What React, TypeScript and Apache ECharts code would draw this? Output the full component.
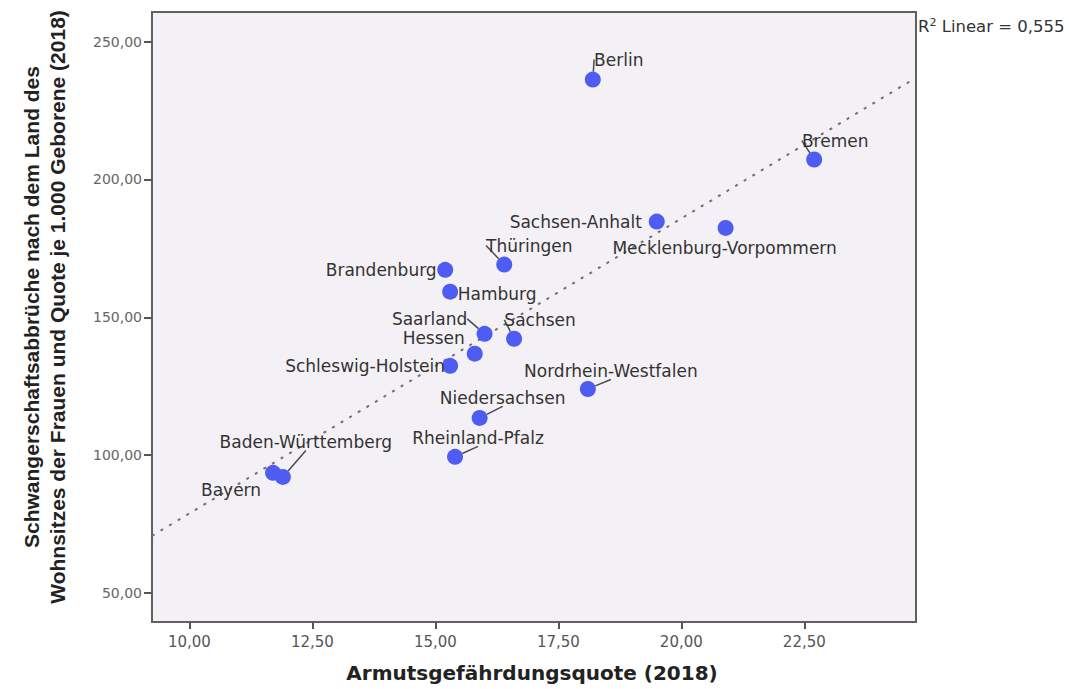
import React, { useEffect, useRef } from "react";
import * as echarts from "echarts";

// ---- Data ----
const states = [
  "Berlin",
  "Bremen",
  "Sachsen-Anhalt",
  "Mecklenburg-Vorpommern",
  "Thüringen",
  "Brandenburg",
  "Hamburg",
  "Saarland",
  "Sachsen",
  "Hessen",
  "Schleswig-Holstein",
  "Nordrhein-Westfalen",
  "Niedersachsen",
  "Rheinland-Pfalz",
  "Baden-Württemberg",
  "Bayern",
];
// Armutsgefährdungsquote (2018)
const povertyRate = [18.2, 22.7, 19.5, 20.9, 16.4, 15.2, 15.3, 16.0, 16.6, 15.8, 15.3, 18.1, 15.9, 15.4, 11.9, 11.7];
// Schwangerschaftsabbrüche je 1.000 Geborene (2018)
const abortionRate = [236.2, 207.2, 184.7, 182.4, 169.1, 167.2, 159.3, 144.0, 142.2, 136.8, 132.4, 124.0, 113.5, 99.4, 92.1, 93.6];
const xTicks = [10, 12.5, 15, 17.5, 20, 22.5];
const yTicks = [50, 100, 150, 200, 250];
const rSquaredText = "0,555";
const xTitle = "Armutsgefährdungsquote (2018)";
const yTitleLines = [
  "Schwangerschaftsabbrüche nach dem Land des",
  "Wohnsitzes der Frauen und Quote je 1.000 Geborene (2018)",
];

// ---- Styling (label placement per state, in px: dx, dy, leader line) ----
const labelPlacement: Record<string, [number, number, boolean]> = {
  Berlin: [26, -20, true],
  Bremen: [21, -19, true],
  "Sachsen-Anhalt": [-81, 0, false],
  "Mecklenburg-Vorpommern": [-1, 20, false],
  "Thüringen": [25, -19, true],
  Brandenburg: [-64, 0, false],
  Hamburg: [47, 2, false],
  Saarland: [-55, -15, true],
  Sachsen: [26, -19, true],
  Hessen: [-41, -16, false],
  "Schleswig-Holstein": [-85, 0, false],
  "Nordrhein-Westfalen": [23, -18, true],
  Niedersachsen: [23, -20, true],
  "Rheinland-Pfalz": [23, -19, true],
  "Baden-Württemberg": [23, -35, true],
  Bayern: [-42, 17, false],
};

const X_MIN = 9.24;
const X_MAX = 24.77;
const Y_MIN = 39.5;
const Y_MAX = 260.7;

const fmt = (v: number) => v.toFixed(2).replace(".", ",");

function linearFit(xs: number[], ys: number[]) {
  const n = xs.length;
  const mx = xs.reduce((a, b) => a + b, 0) / n;
  const my = ys.reduce((a, b) => a + b, 0) / n;
  let sxy = 0;
  let sxx = 0;
  for (let i = 0; i < n; i++) {
    sxy += (xs[i] - mx) * (ys[i] - my);
    sxx += (xs[i] - mx) * (xs[i] - mx);
  }
  const b = sxy / sxx;
  return { a: my - b * mx, b };
}

export default function App() {
  const ref = useRef<HTMLDivElement>(null);

  useEffect(() => {
    if (!ref.current) return;
    const chart = echarts.init(ref.current, null, { renderer: "svg" });
    const fit = linearFit(povertyRate, abortionRate);

    const points = states.map((name, i) => {
      const p = labelPlacement[name];
      return {
        name,
        value: [povertyRate[i], abortionRate[i]],
        labelLine: { show: p ? p[2] : false },
      };
    });

    const option: any = {
      animation: false,
      backgroundColor: "#ffffff",
      grid: {
        left: 152,
        right: 153,
        top: 12,
        bottom: 67,
        show: true,
        backgroundColor: "#f4f1f6",
        borderColor: "#606060",
        borderWidth: 2,
      },
      xAxis: {
        type: "value",
        min: X_MIN,
        max: X_MAX,
        splitLine: { show: false },
        axisLine: { show: true, onZero: false, lineStyle: { color: "#606060", width: 2 } },
        axisTick: {
          show: true,
          length: 7,
          customValues: xTicks,
          lineStyle: { color: "#555", width: 2 },
        },
        axisLabel: {
          customValues: xTicks,
          formatter: (v: number) => fmt(v),
          fontFamily: "DejaVu Sans",
          fontSize: 15,
          color: "#555",
          margin: 12,
        },
      },
      yAxis: {
        type: "value",
        min: Y_MIN,
        max: Y_MAX,
        splitLine: { show: false },
        axisLine: { show: true, onZero: false, lineStyle: { color: "#606060", width: 2 } },
        axisTick: {
          show: true,
          length: 8,
          customValues: yTicks,
          lineStyle: { color: "#555", width: 2 },
        },
        axisLabel: {
          customValues: yTicks,
          formatter: (v: number) => fmt(v),
          fontFamily: "DejaVu Sans",
          fontSize: 14,
          color: "#666",
          margin: 10,
        },
      },
      series: [
        {
          type: "line",
          data: [
            [X_MIN, fit.a + fit.b * X_MIN],
            [X_MAX, fit.a + fit.b * X_MAX],
          ],
          showSymbol: false,
          symbol: "none",
          silent: true,
          lineStyle: { color: "#707070", width: 2, type: [3, 7] },
          z: 1,
        },
        {
          type: "scatter",
          data: points,
          symbolSize: 16,
          itemStyle: { color: "#4f5cf2", opacity: 1 },
          z: 3,
          label: {
            show: true,
            position: "inside",
            formatter: "{b}",
            fontFamily: "DejaVu Sans",
            fontSize: 17,
            lineHeight: 16,
            color: "#333",
            align: "center",
            verticalAlign: "middle",
          },
          labelLine: {
            show: false,
            lineStyle: { color: "#4a4a4a", width: 1.5 },
          },
          labelLayout: (params: any) => {
            const name = states[params.dataIndex];
            const p = labelPlacement[name] || [0, 0, false];
            return { dx: p[0], dy: p[1] };
          },
        },
      ],
      graphic: [
        {
          type: "text",
          x: 44,
          y: 307,
          rotation: Math.PI / 2,
          style: {
            text: yTitleLines.join("\n"),
            fontFamily: "Liberation Sans",
            fontWeight: "bold",
            fontSize: 21,
            lineHeight: 26,
            fill: "#222",
            align: "center",
            verticalAlign: "middle",
          },
        },
        {
          type: "text",
          x: 532,
          y: 673,
          style: {
            text: xTitle,
            fontFamily: "DejaVu Sans",
            fontWeight: "bold",
            fontSize: 20,
            fill: "#222",
            align: "center",
            verticalAlign: "middle",
          },
        },
        {
          type: "text",
          x: 918,
          y: 26,
          style: {
            text: "{r|R}{s|2}{r| Linear = " + rSquaredText + "}",
            verticalAlign: "middle",
            align: "left",
            rich: {
              r: { fontFamily: "DejaVu Sans", fontSize: 16.5, fill: "#333" },
              s: { fontFamily: "DejaVu Sans", fontSize: 11, fill: "#333", verticalAlign: "top", padding: [0, 0, 8, 0] },
            },
          },
        },
      ],
    };

    chart.setOption(option);
    return () => chart.dispose();
  }, []);

  return (
    <div
      ref={ref}
      style={{ position: "absolute", left: 0, top: 0, width: 1069, height: 689 }}
    />
  );
}
